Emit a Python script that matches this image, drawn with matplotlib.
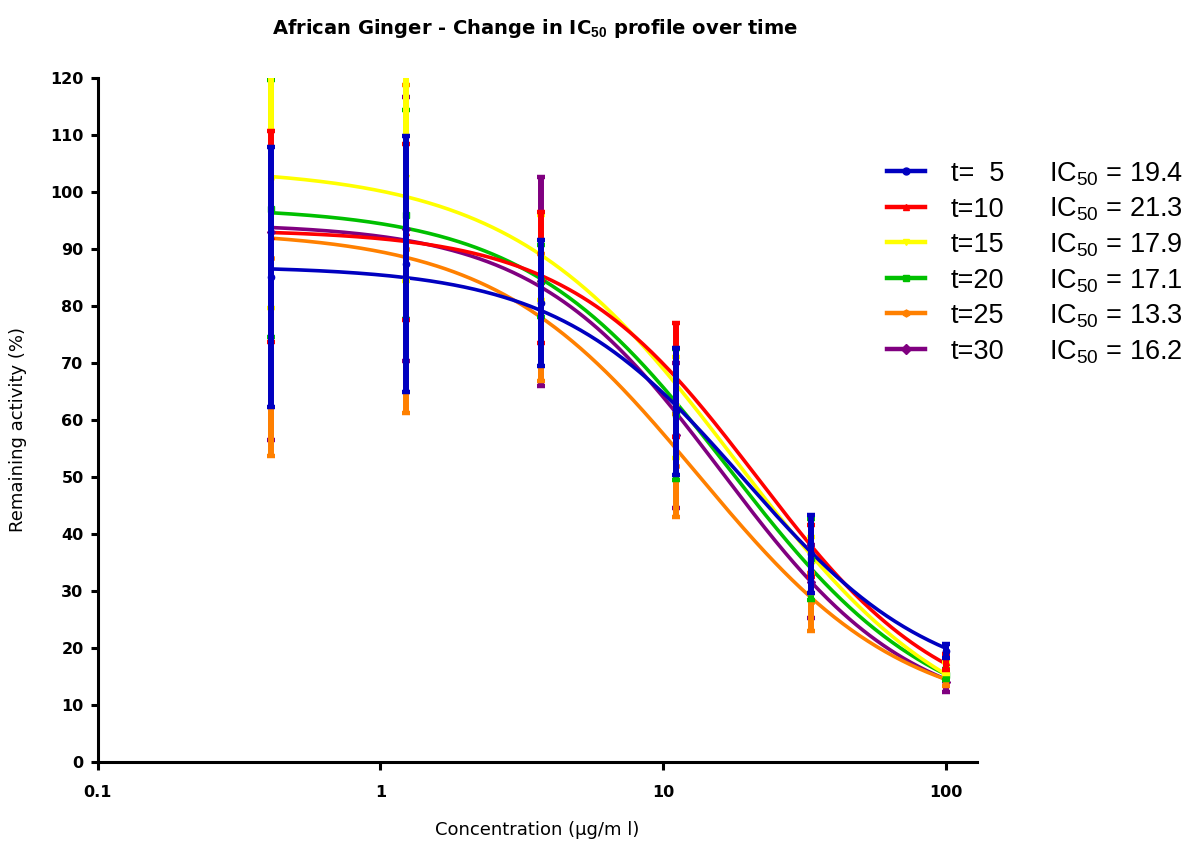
import numpy as np
import matplotlib
matplotlib.use("Agg")
import matplotlib.pyplot as plt
from matplotlib.ticker import NullLocator

# Concentrations (µg/ml) of the 3-fold dilution series
conc = [0.4115, 1.235, 3.704, 11.11, 33.33, 100.0]

# Series metadata
series_labels = ["t=  5", "t=10", "t=15", "t=20", "t=25", "t=30"]
ic50 = [19.4, 21.3, 17.9, 17.1, 13.3, 16.2]
colors = ["#0000C0", "#FF0000", "#FFFF00", "#00C000", "#FF8000", "#800080"]
markers = ["o", "^", "v", "s", "h", "D"]

# Mean remaining activity (%) and SD per time point
mean_t5 = [85.1, 87.4, 80.5, 61.5, 36.5, 19.5]
sd_t5 = [22.8, 22.4, 11.0, 11.1, 6.8, 1.2]
mean_t10 = [92.2, 93.0, 85.0, 67.0, 37.0, 17.5]
sd_t10 = [18.5, 15.5, 11.5, 10.0, 4.5, 1.4]
mean_t15 = [102.0, 102.5, 88.5, 62.2, 34.6, 16.5]
sd_t15 = [22.4, 18.2, 7.5, 8.9, 4.9, 1.1]
mean_t20 = [97.1, 96.0, 84.4, 61.0, 35.5, 15.3]
sd_t20 = [22.5, 18.3, 6.3, 11.5, 7.1, 1.0]
mean_t25 = [88.5, 90.0, 78.0, 52.0, 28.0, 14.5]
sd_t25 = [34.9, 28.8, 11.2, 9.0, 5.1, 1.1]
mean_t30 = [93.0, 93.5, 84.3, 57.3, 31.6, 14.0]
sd_t30 = [36.5, 23.2, 18.3, 12.7, 6.4, 1.7]

means = [mean_t5, mean_t10, mean_t15, mean_t20, mean_t25, mean_t30]
sds = [sd_t5, sd_t10, sd_t15, sd_t20, sd_t25, sd_t30]

# Four-parameter logistic fit parameters (IC50 from the legend)
fit_top = [87.0, 93.4, 104.3, 97.4, 93.2, 94.5]
fit_bottom = [12.0, 7.0, 2.0, 5.5, 7.5, 7.0]
fit_hill = [1.3, 1.3, 1.1, 1.2, 1.2, 1.3]

y_ticks = list(range(0, 121, 10))
x_ticks = [0.1, 1, 10, 100]
x_tick_labels = ["0.1", "1", "10", "100"]

plt.rcParams["mathtext.fontset"] = "custom"
plt.rcParams["mathtext.rm"] = "Liberation Sans"
plt.rcParams["mathtext.bf"] = "Liberation Sans:bold"
plt.rcParams["mathtext.it"] = "Liberation Sans:italic"

W, H, DPI = 1193, 842, 100
fig = plt.figure(figsize=(W / DPI, H / DPI), dpi=DPI)


def fx(px):
    return px / W


def fy(py):
    return 1 - py / H


ax_left, ax_right, ax_top, ax_bottom = 97.5, 976.7, 78.0, 762.0
ax = fig.add_axes([fx(ax_left), fy(ax_bottom), fx(ax_right - ax_left),
                   (ax_bottom - ax_top) / H])


def logistic(x, top, bottom, ic, h):
    return bottom + (top - bottom) / (1.0 + (x / ic) ** h)


xs = np.logspace(np.log10(conc[0]), np.log10(conc[-1]), 400)
n = len(series_labels)
for i in reversed(range(n)):
    z = 2 + (n - i) * 0.1
    ys = logistic(xs, fit_top[i], fit_bottom[i], ic50[i], fit_hill[i])
    ax.plot(xs, ys, color=colors[i], lw=2.6, zorder=z, solid_capstyle="butt")

for i in reversed(range(n)):
    z = 4 + (n - i) * 0.1
    ax.errorbar(conc, means[i], yerr=sds[i], fmt=markers[i], color=colors[i],
                ms=4.5, elinewidth=4.3, capsize=2.6, capthick=3.2,
                linestyle="none", zorder=z)

ax.set_xscale("log")
ax.set_xlim(0.1, 10 ** (-1 + (ax_right - ax_left) / 282.8))
ax.set_ylim(0, 120)
ax.set_xticks(x_ticks)
ax.set_xticklabels(x_tick_labels)
ax.xaxis.set_minor_locator(NullLocator())
ax.set_yticks(y_ticks)
ax.set_yticklabels([str(v) for v in y_ticks])

for side in ("top", "right"):
    ax.spines[side].set_visible(False)
for side in ("left", "bottom"):
    ax.spines[side].set_linewidth(2.2)
    ax.spines[side].set_capstyle("projecting")

ax.tick_params(axis="y", direction="out", length=5, width=2.2, pad=5,
               labelsize=11.5)
ax.tick_params(axis="x", direction="out", length=5.5, width=2.2, pad=11,
               labelsize=11.5)
for lab in ax.get_yticklabels() + ax.get_xticklabels():
    lab.set_fontweight("bold")
    lab.set_family("DejaVu Sans")

ax.set_facecolor("none")

# Axis titles and chart title
fig.text(fx(537), fy(830), "Concentration (µg/m l)", ha="center", va="center",
         fontsize=13, family="DejaVu Sans")
fig.text(fx(18), fy(430), "Remaining activity (%)", ha="center", va="center",
         rotation=90, fontsize=13, family="DejaVu Sans")
fig.text(fx(535), fy(28),
         r"African Ginger - Change in IC$_{\mathbf{50}}$ profile over time",
         ha="center", va="center", fontsize=14, fontweight="bold",
         family="DejaVu Sans")

# Legend: sample line + series name + IC50 value
row_y0, row_dy = 171.0, 35.6
for i in range(n):
    yy = row_y0 + i * row_dy
    fig.add_artist(plt.Line2D([fx(887), fx(925)], [fy(yy), fy(yy)],
                              color=colors[i], lw=3.2,
                              transform=fig.transFigure))
    fig.add_artist(plt.Line2D([fx(906)], [fy(yy)], marker=markers[i],
                              color=colors[i], ms=5, lw=0,
                              transform=fig.transFigure))
    fig.text(fx(951), fy(yy + 3), series_labels[i], ha="left", va="center",
             fontsize=19.5, family="Liberation Sans")
    fig.text(fx(1049), fy(yy + 3), "IC$_{50}$ = %.1f" % ic50[i], ha="left",
             va="center", fontsize=19.5, family="Liberation Sans")

fig.savefig("out.png", dpi=DPI, facecolor="white")
